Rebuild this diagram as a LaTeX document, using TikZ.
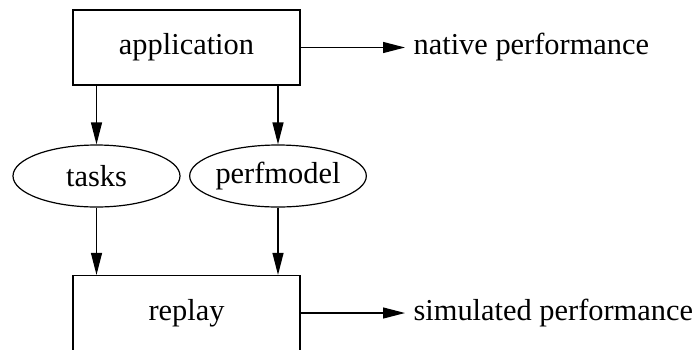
\documentclass[tikz,border=0pt]{standalone}
\usepackage{fontspec}
\setmainfont{Liberation Serif}
\usepackage{tikz}
\usetikzlibrary{arrows.meta,shapes.geometric}
\usetikzlibrary{positioning}
\tikzset{
    block/.style={
           rectangle,
           draw=black,
           line width=1.2pt,
           minimum width=227pt,
           minimum height=75pt,
           inner sep=2pt,
           text centered,
           },
    data/.style={
           ellipse,
           draw=black,
           line width=1.2pt,
           minimum width=167pt,
           minimum height=62pt,
           inner sep=0pt,
           },
    result/.style={
           anchor=west,
           inner xsep=8pt,
           inner ysep=0pt,
           },
}

\begin{document}
\begin{tikzpicture}[x=1pt,y=-1pt,
  ->,>={Triangle[length=22pt,width=11pt]},line width=1.2pt,
  font=\fontsize{30.4}{35}\selectfont]

 \useasboundingbox (0,0) rectangle (692,349);

 \node[block] (APP) at (186.5,47.5) {application};

 \node[block,
 node distance=265.5pt,
 below of=APP,
 ] (REPLAY) {replay};

 \node[data] (TASKS) at (96.5,176) {tasks};

 \node[data] (PERF) at (278,176) {perfmodel};

 \node[result] (NATIVE) at (405,47.5) {native performance};

 \node[result] (SIM) at (405,313) {simulated performance};

 \path (APP) edge (NATIVE)
   (REPLAY) edge (SIM)
   (APP.south -| TASKS) edge (TASKS)
   (APP.south -| PERF) edge (PERF)
   (TASKS) edge (TASKS |- REPLAY.north)
   (PERF) edge (PERF |- REPLAY.north)
 ;
\end{tikzpicture}
\end{document}
